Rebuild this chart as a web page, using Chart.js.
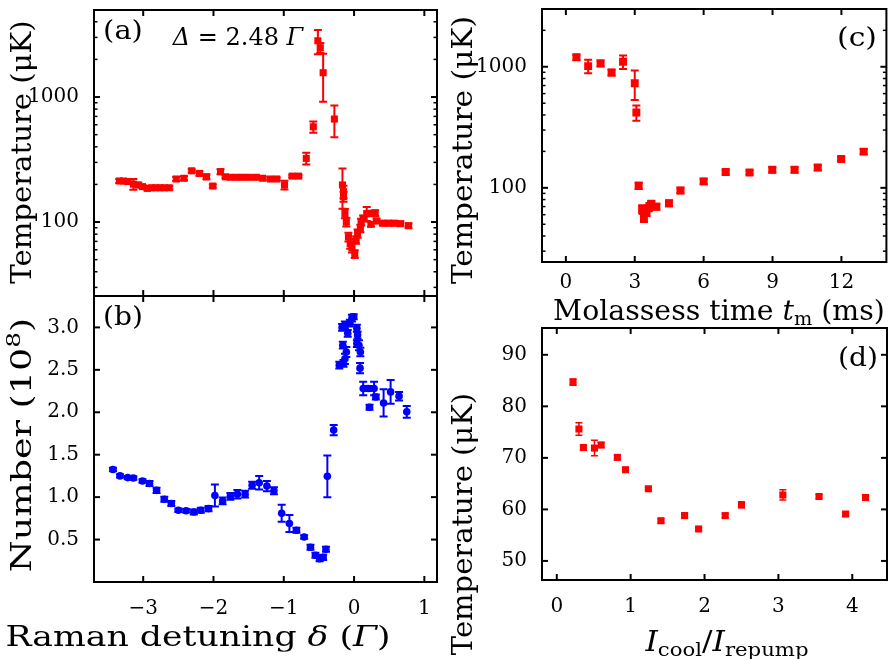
<!DOCTYPE html>
<html>
<head>
<meta charset="utf-8">
<script src="https://cdn.jsdelivr.net/npm/chart.js@4"></script>
<style>
html,body{margin:0;padding:0;background:#fff;}
#wrap{position:relative;width:892px;height:659px;overflow:hidden;background:#fff;}
#wrap canvas{position:absolute;left:0;top:0;}
.lbl{position:absolute;font-family:"DejaVu Serif",serif;color:#000;white-space:nowrap;line-height:1;transform-origin:50% 50%;}
.lbl sub,.lbl sup{font-size:0.68em;line-height:0;}
.lbl sub{vertical-align:-0.3em;}
.lbl sup{vertical-align:0.55em;}
</style>
</head>
<body>
<div id="wrap">
<canvas id="pa" width="892" height="659"></canvas>
<canvas id="pb" width="892" height="659"></canvas>
<canvas id="pc" width="892" height="659"></canvas>
<canvas id="pd" width="892" height="659"></canvas>
</div>
<script>
// ---------------- data ----------------
// (a) temperature vs Raman detuning
const aDelta = [-3.34,-3.28,-3.22,-3.14,-3.07,-3.01,-2.94,-2.88,-2.82,-2.76,-2.70,-2.63,-2.53,-2.42,-2.31,-2.20,-2.10,-2.01,-1.90,-1.83,-1.76,-1.67,-1.58,-1.49,-1.39,-1.30,-1.19,-1.10,-0.99,-0.88,-0.79,-0.68,-0.58,-0.515,-0.48,-0.44,-0.28,-0.165,-0.15,-0.15,-0.13,-0.11,-0.08,-0.055,-0.03,0.01,0.03,0.05,0.09,0.10,0.13,0.18,0.23,0.30,0.24,0.32,0.41,0.49,0.57,0.66,0.775];
const aTemp = [213,213,211,201,198,192,186,188,188,188,188,188,221,224,257,245,230,194,253,230,228,228,228,228,228,224,221,221,198,233,233,323,578,2820,2480,1565,667,198,175,160,117,100,76,67,62,55.5,72,81,89,100,107,117,117,118,96,102,98,98,98,97,93.4];
const aTempErr = [8,8,8,20,8,6,6,6,6,6,6,6,8,8,8,10,10,6,12,6,6,6,6,6,6,6,6,6,16,6,6,35,60,620,230,650,190,70,20,15,10,8,6,6,5,4,5,6,6,6,6,15,6,6,4,4,4,4,4,4,4];
// (b) atom number vs Raman detuning
const bDelta = [-3.43,-3.33,-3.22,-3.14,-3.01,-2.91,-2.81,-2.70,-2.60,-2.50,-2.39,-2.28,-2.18,-2.07,-1.98,-1.87,-1.76,-1.66,-1.55,-1.45,-1.35,-1.24,-1.14,-1.03,-0.92,-0.82,-0.71,-0.62,-0.55,-0.49,-0.44,-0.40,-0.38,-0.29,-0.21,-0.16,-0.17,-0.15,-0.13,-0.13,-0.11,-0.09,-0.06,-0.03,-0.005,0.04,0.04,0.05,0.07,0.09,0.085,0.13,0.20,0.22,0.285,0.31,0.42,0.52,0.64,0.75];
const bNumber = [1.325,1.25,1.23,1.225,1.19,1.16,1.08,0.975,0.925,0.845,0.84,0.825,0.845,0.865,1.02,0.955,1.01,1.035,1.035,1.14,1.17,1.13,1.075,0.81,0.69,0.61,0.53,0.41,0.315,0.275,0.29,0.385,1.245,1.79,2.555,2.79,3.0,2.575,2.63,3.03,2.71,2.93,3.05,3.11,3.125,2.99,2.81,2.91,2.79,2.71,2.52,2.28,2.28,2.06,2.28,2.18,2.11,2.24,2.19,2.005];
const bNumberErr = [0.02,0.02,0.02,0.02,0.02,0.03,0.03,0.03,0.03,0.02,0.02,0.03,0.03,0.03,0.13,0.04,0.04,0.05,0.04,0.04,0.08,0.06,0.04,0.1,0.1,0.03,0.02,0.03,0.03,0.03,0.03,0.03,0.245,0.06,0.04,0.04,0.04,0.04,0.06,0.04,0.06,0.04,0.04,0.04,0.03,0.04,0.04,0.04,0.06,0.05,0.06,0.08,0.03,0.03,0.08,0.03,0.16,0.14,0.05,0.07];
// (c) temperature vs molasses time
const cTime = [0.46,0.97,1.51,1.99,2.49,3.0,3.07,3.17,3.32,3.36,3.40,3.45,3.51,3.60,3.65,3.72,3.94,4.49,4.99,6.0,6.96,8.0,8.99,9.96,10.97,11.99,12.97];
const cTemp = [1197,1013,1067,897,1100,731,419,104,66.7,65,56.1,63,62.5,68,71,74,70,74.6,95,113,135,134,141,141,147,173,199];
const cTempErr = [60,130,60,50,140,200,60,6,5,4,4,4,4,4,4,4,4,4,5,6,6,5,7,7,7,6,10];
// (d) temperature vs intensity ratio
const dRatio = [0.22,0.30,0.36,0.51,0.60,0.82,0.93,1.24,1.41,1.73,1.92,2.28,2.50,3.06,3.55,3.91,4.18];
const dTemp = [84.7,75.6,72.0,71.9,72.5,70.1,67.7,64.0,57.8,58.8,56.2,58.8,60.9,62.8,62.5,59.1,62.3];
const dTempErr = [0.6,1.2,0.5,1.5,0.5,0.4,0.4,0.3,0.4,0.5,0.3,0.4,0.6,1.0,0.4,0.4,0.4];
// tick values
const detuningTicks = [-3,-2,-1,0,1];
const tempLogTicks = [100,1000];
const tempLogMinorA = [30,40,50,60,70,80,90,200,300,400,500,600,700,800,900,2000,3000,4000];
const tempLogMinorC = [30,40,50,60,70,80,90,200,300,400,500,600,700,800,900,2000];
const numberTicks = [0.5,1.0,1.5,2.0,2.5,3.0];
const timeTicks = [0,3,6,9,12];
const ratioTicks = [0,1,2,3,4];
const tempLinTicks = [50,60,70,80,90];

// ---------------- helpers ----------------
const FONT = "'DejaVu Serif', serif";
const RED = '#ff0000', BLUE = '#0000ff';
function pts(xs, ys){ return xs.map((x,i)=>({x:x, y:ys[i]})); }
function minus(v){ return String(v).replace('-', '\u2212'); }

function makePanel(id, o){
  const W = 892, H = 659, yW = 100;
  const xH = o.xLabels ? 40 : 0;
  const framePlugin = {
    id: 'frame' + id,
    afterDraw(chart){
      const ctx = chart.ctx, a = chart.chartArea, xs = chart.scales.x, ys = chart.scales.y;
      ctx.save();
      ctx.strokeStyle = '#000';
      ctx.lineCap = 'butt';
      const seg = (x1,y1,x2,y2,lw)=>{ ctx.lineWidth = lw; ctx.beginPath(); ctx.moveTo(x1,y1); ctx.lineTo(x2,y2); ctx.stroke(); };
      const xt = (vals, L, lw)=> vals.forEach(v=>{ const p = xs.getPixelForValue(v); seg(p,a.bottom,p,a.bottom-L,lw); seg(p,a.top,p,a.top+L,lw); });
      const yt = (vals, L, lw)=> vals.forEach(v=>{ const p = ys.getPixelForValue(v); seg(a.left,p,a.left+L,p,lw); seg(a.right,p,a.right-L,p,lw); });
      xt(o.xTicks, 6, 2);
      yt(o.yTicks, 6, 2);
      if (o.yMinor) yt(o.yMinor, 3.5, 1.5);
      ctx.lineWidth = 2;
      ctx.strokeRect(a.left, a.top, a.right - a.left, a.bottom - a.top);
      ctx.restore();
    }
  };
  const errPlugin = {
    id: 'err' + id,
    beforeDatasetsDraw(chart){
      const ctx = chart.ctx, a = chart.chartArea, xs = chart.scales.x, ys = chart.scales.y;
      ctx.save();
      ctx.beginPath(); ctx.rect(a.left, a.top, a.right-a.left, a.bottom-a.top); ctx.clip();
      ctx.strokeStyle = o.color; ctx.lineWidth = o.ew;
      o.xs.forEach((xv,i)=>{
        const e = o.errs[i]; if (!e) return;
        const px = xs.getPixelForValue(xv);
        const lo = Math.max(o.ys[i]-e, o.yMin*1.0001);
        const y1 = ys.getPixelForValue(lo), y2 = ys.getPixelForValue(o.ys[i]+e);
        ctx.beginPath();
        ctx.moveTo(px,y1); ctx.lineTo(px,y2);
        ctx.moveTo(px-o.cap,y1); ctx.lineTo(px+o.cap,y1);
        ctx.moveTo(px-o.cap,y2); ctx.lineTo(px+o.cap,y2);
        ctx.stroke();
      });
      ctx.restore();
    }
  };
  return new Chart(document.getElementById(id), {
    type: 'scatter',
    data: { datasets: [{ data: pts(o.xs, o.ys), pointStyle: o.style, pointRadius: o.r, pointHoverRadius: o.r, backgroundColor: o.color, borderColor: o.color, borderWidth: 0 }] },
    options: {
      responsive: false, animation: false, events: [],
      layout: { padding: { left: o.area.l - yW, top: o.area.t, right: W - o.area.r, bottom: H - o.area.b - xH } },
      plugins: { legend: {display:false}, tooltip: {enabled:false} },
      scales: {
        x: {
          type: 'linear', min: o.xMin, max: o.xMax,
          afterBuildTicks: s => { s.ticks = o.xTicks.map(v=>({value:v})); },
          afterFit: s => { s.height = xH; s.paddingLeft = 0; s.paddingRight = 0; s.paddingTop = 0; s.paddingBottom = 0; },
          grid: {display:false}, border: {display:false},
          ticks: { display: o.xLabels, padding: o.xPad || 7, autoSkip: false, maxRotation: 0, color: '#000', font: {family: FONT, size: 20}, callback: v => minus(v) }
        },
        y: {
          type: o.yLog ? 'logarithmic' : 'linear', min: o.yMin, max: o.yMax,
          afterBuildTicks: s => { s.ticks = o.yTicks.map(v=>({value:v})); },
          afterFit: s => { s.width = yW; s.paddingLeft = 0; s.paddingRight = 0; s.paddingTop = 0; s.paddingBottom = 0; },
          grid: {display:false}, border: {display:false},
          ticks: { padding: 7, autoSkip: false, color: '#000', font: {family: FONT, size: 20}, callback: o.yFmt || (v => String(v)) }
        }
      }
    },
    plugins: [errPlugin, framePlugin]
  });
}

makePanel('pa', { area:{l:94,t:10,r:437,b:296}, xs:aDelta, ys:aTemp, errs:aTempErr, color:RED, style:'rect', r:5, ew:2, cap:4,
  xMin:-3.7, xMax:1.18, xTicks:detuningTicks, xLabels:false,
  yLog:true, yMin:25.6, yMax:4970, yTicks:tempLogTicks, yMinor:tempLogMinorA });
makePanel('pb', { area:{l:94,t:296,r:437,b:582}, xs:bDelta, ys:bNumber, errs:bNumberErr, color:BLUE, style:'circle', r:3.8, ew:2, cap:4,
  xMin:-3.7, xMax:1.18, xTicks:detuningTicks, xLabels:true, xPad:7,
  yMin:0, yMax:3.37, yTicks:numberTicks, yFmt: v => v.toFixed(1) });
makePanel('pc', { area:{l:542,t:9,r:887,b:262}, xs:cTime, ys:cTemp, errs:cTempErr, color:RED, style:'rect', r:5.6, ew:2, cap:4,
  xMin:-1.04, xMax:13.96, xTicks:timeTicks, xLabels:true, xPad:1,
  yLog:true, yMin:24.4, yMax:3000, yTicks:tempLogTicks, yMinor:tempLogMinorC });
makePanel('pd', { area:{l:542,t:328,r:887,b:580}, xs:dRatio, ys:dTemp, errs:dTempErr, color:RED, style:'rect', r:5, ew:1.5, cap:3.5,
  xMin:-0.2, xMax:4.47, xTicks:ratioTicks, xLabels:true, xPad:7,
  yMin:46.3, yMax:95.2, yTicks:tempLinTicks });

// ---------------- text labels ----------------
const textLabels = [
  {html:'Temperature (μK)', x:21, y:152, len:263, rot:-90, size:27},
  {html:'Number (10<sup>8</sup>)', x:21, y:445, len:255, rot:-90, size:27},
  {html:'Raman detuning <i>δ</i> (<i>Γ</i>)', x:198, y:636, len:385, rot:0, size:27},
  {html:'Temperature (μK)', x:462, y:150, len:268, rot:-90, size:27},
  {html:'Molassess time <i>t</i><sub>m</sub> (ms)', x:719, y:310, len:332, rot:0, size:27},
  {html:'Temperature (μK)', x:462, y:524, len:262, rot:-90, size:27},
  {html:'<i>I</i><sub>cool</sub>/<i>I</i><sub>repump</sub>', x:727, y:641, len:163, rot:0, size:27},
  {html:'(a)', x:123, y:30, len:40, rot:0, size:26},
  {html:'(b)', x:123, y:316, len:40, rot:0, size:26},
  {html:'(c)', x:857, y:37, len:40, rot:0, size:26},
  {html:'(d)', x:858, y:357, len:40, rot:0, size:26},
  {html:'<i>Δ</i> = 2.48 <i>Γ</i>', x:238, y:37, len:130, rot:0, size:24}
];
const wrap = document.getElementById('wrap');
textLabels.forEach(t=>{
  const el = document.createElement('div');
  el.className = 'lbl';
  el.innerHTML = t.html;
  el.style.fontSize = t.size + 'px';
  el.style.left = t.x + 'px';
  el.style.top = t.y + 'px';
  wrap.appendChild(el);
  const w = el.offsetWidth;
  const s = t.len / w;
  el.style.transform = 'translate(-50%,-50%) rotate(' + t.rot + 'deg) scaleX(' + s.toFixed(3) + ')';
});
</script>
</body>
</html>
